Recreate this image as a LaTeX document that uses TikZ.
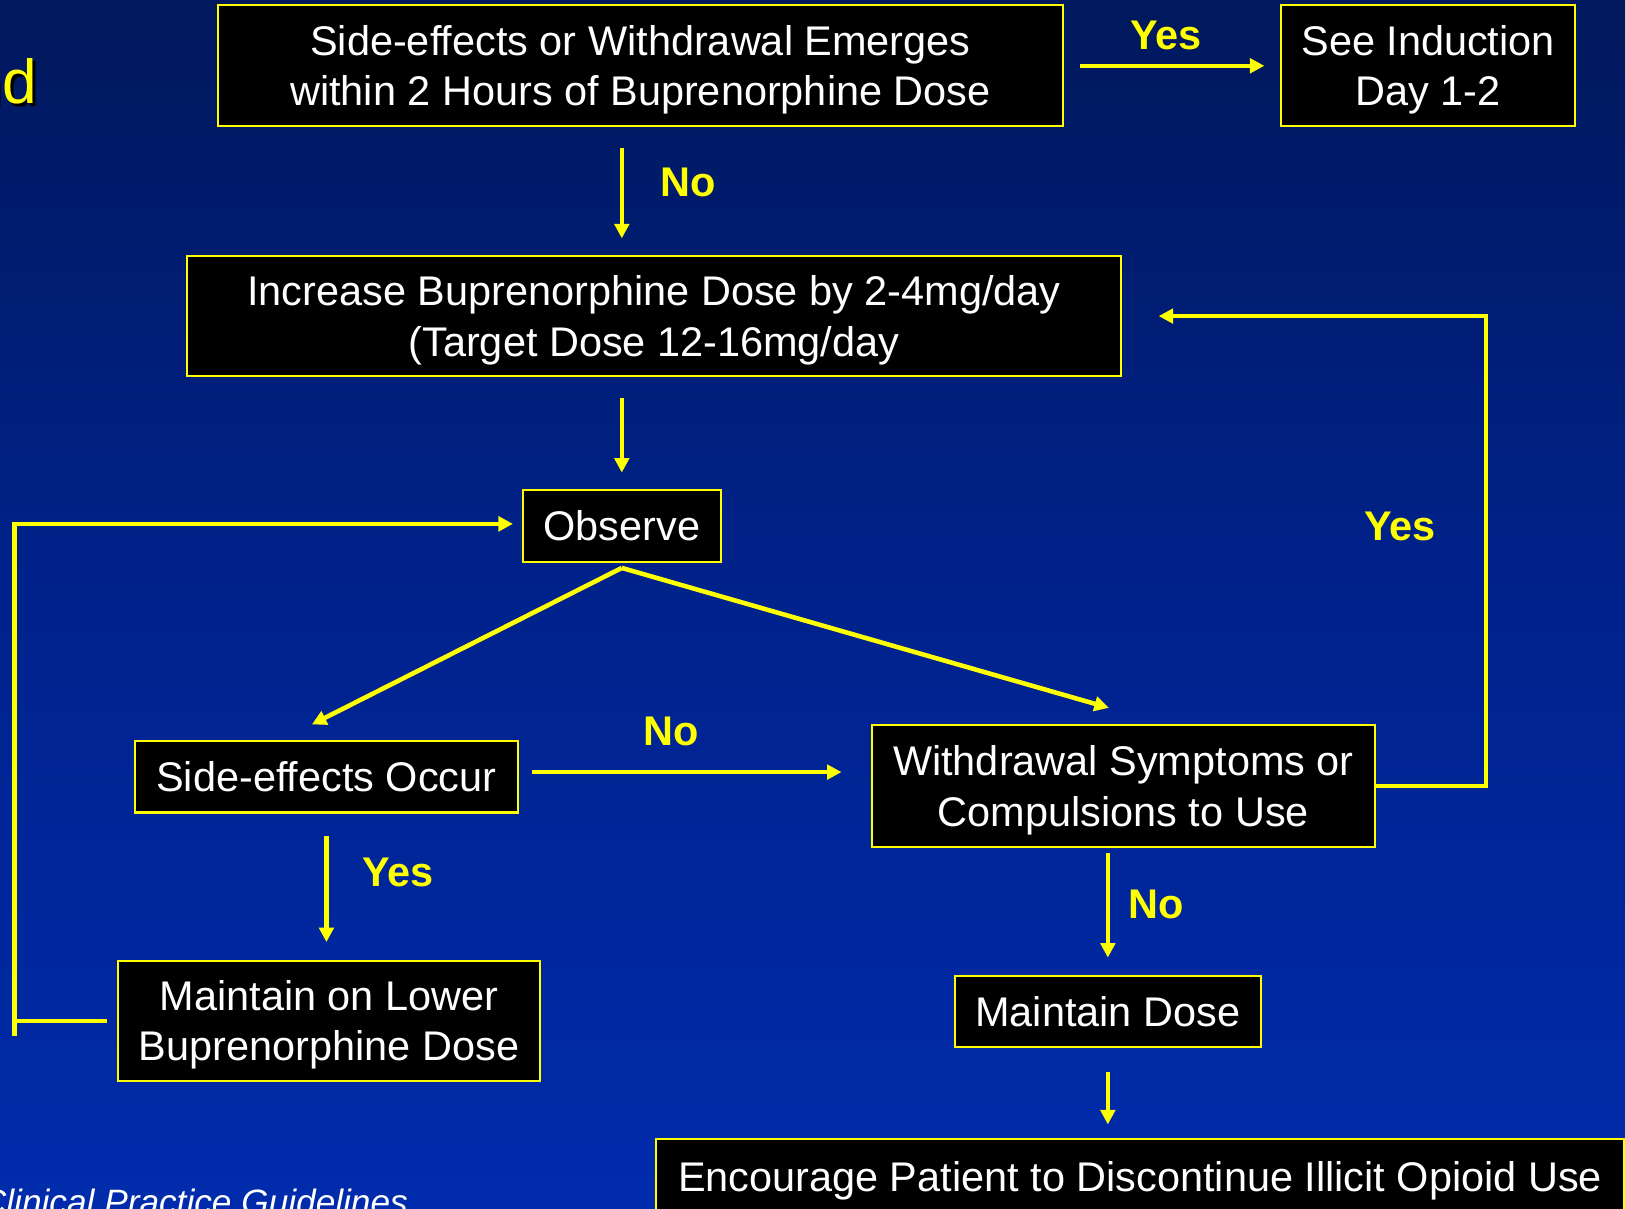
\documentclass[tikz,border=0pt]{standalone}
\usepackage{fontspec}
\setmainfont{Liberation Sans}
\usetikzlibrary{arrows.meta,calc}
\definecolor{bgtop}{RGB}{0,4,28}
\definecolor{bgq}{RGB}{0,24,92}
\definecolor{bgmid}{RGB}{0,34,140}
\definecolor{bgbot}{RGB}{0,52,204}
\definecolor{ylw}{RGB}{255,255,0}
\pgfdeclareverticalshading{bgshade}{100bp}{color(0bp)=(bgbot); color(50bp)=(bgmid); color(75bp)=(bgq); color(100bp)=(bgtop)}
\begin{document}
\begin{tikzpicture}[x=0.5pt,y=-0.5pt,
 box/.style={draw=ylw, fill=black, line width=1pt, text=white, align=center, inner sep=0pt, text depth=0pt, font=\fontsize{20pt}{24.25pt}\selectfont},
 wh/.style 2 args={minimum width=#1*0.5pt, minimum height=#2*0.5pt},
 lbl/.style={text=ylw, inner sep=0pt, anchor=base, font=\fontsize{20pt}{24pt}\selectfont\bfseries},
 arr/.style={draw=ylw, line width=2.2pt, -{Triangle[length=7pt,width=7pt]}},
 ln/.style={draw=ylw, line width=2.2pt}]
\useasboundingbox (0,0) rectangle (1568,1166);
\clip (0,0) rectangle (1568,1166);
\shade[shading=bgshade] (0,0) rectangle (1568,1166);

% title fragment and source fragment
\node[anchor=base east, inner sep=0pt, text=black, font=\fontsize{30pt}{36pt}\selectfont] (dsh) at (39,103) {nd};
\node[anchor=base east, inner sep=0pt, text=ylw, font=\fontsize{30pt}{36pt}\selectfont] (dtx) at (36,100) {nd};
\node[anchor=base east, inner sep=0pt, text=white, font=\itshape\fontsize{17pt}{20pt}\selectfont] (cite) at (394,1172) {Clinical Practice Guidelines};

% boxes
\node[box, wh={816}{117}] (top) at (618,63.5) {Side-effects or Withdrawal Emerges\\within 2 Hours of Buprenorphine Dose};
\node[box, wh={284}{117}] (induct) at (1378,63.5) {See Induction\\Day 1-2};
\node[box, wh={902}{116}] (incr) at (631,305) {Increase Buprenorphine Dose by 2-4mg/day\\(Target Dose 12-16mg/day};
\node[box, wh={191}{69}] (obs) at (600,507.5) {Observe};
\node[box, wh={370}{69}] (side) at (315,749.5) {Side-effects Occur};
\node[box, wh={486}{117}] (wd) at (1084,758.5) {Withdrawal Symptoms or\\Compulsions to Use};
\node[box, wh={407}{116}] (lower) at (317.5,985) {Maintain on Lower\\Buprenorphine Dose};
\node[box, wh={295}{68}] (maint) at (1069,976) {Maintain Dose};
\node[box, wh={934}{73}] (enc) at (1100,1135.5) {Encourage Patient to Discontinue Illicit Opioid Use};

% connectors
\draw[arr, shorten <=7.5pt, shorten >=7.5pt] (top.east) -- (top.east -| induct.west);
\draw[arr, shorten <=10pt, shorten >=8pt] (top.south -| obs.north) -- (incr.north -| obs.north);
\draw[arr, shorten <=10pt, shorten >=8pt] (incr.south -| obs.north) -- (obs.north);
\draw[arr] ([yshift=-2.5pt]obs.south) -- ([shift={(-7pt,7.5pt)}]side.north);
\draw[arr] ([yshift=-2.5pt]obs.south) -- ([shift={(-7pt,8pt)}]wd.north);
\draw[arr, shorten <=6pt, shorten >=14pt] ([yshift=2.25pt]side.east) -- ([yshift=2.25pt]side.east -| wd.west);
\draw[arr, shorten <=11pt, shorten >=8.5pt] (side.south) -- (side.south |- lower.north);
\draw[arr, shorten <=2.5pt, shorten >=8.5pt] (maint.north |- wd.south) -- (maint.north);
\draw[arr, shorten <=11.5pt, shorten >=6.5pt] (maint.south) -- (maint.south |- enc.north);

\coordinate (rx) at (1434,0);
\draw[arr, shorten >=17.5pt] (wd.east) -- (wd.east -| rx) -- (rx |- incr.east) -- (incr.east);

\coordinate (lx) at (14,1000);
\draw[ln, shorten <=5pt] (lower.west) -- (lower.west -| lx);
\draw[arr, shorten >=4.25pt] (lx) |- ([yshift=1pt]obs.west);

% labels
\node[lbl] (l1) at (1125,48) {Yes};
\node[lbl] (l2) at (664,190) {No};
\node[lbl] (l3) at (1351,522) {Yes};
\node[lbl] (l4) at (648,719) {No};
\node[lbl] (l5) at (384,855) {Yes};
\node[lbl] (l6) at (1116,886) {No};
\end{tikzpicture}
\end{document}
